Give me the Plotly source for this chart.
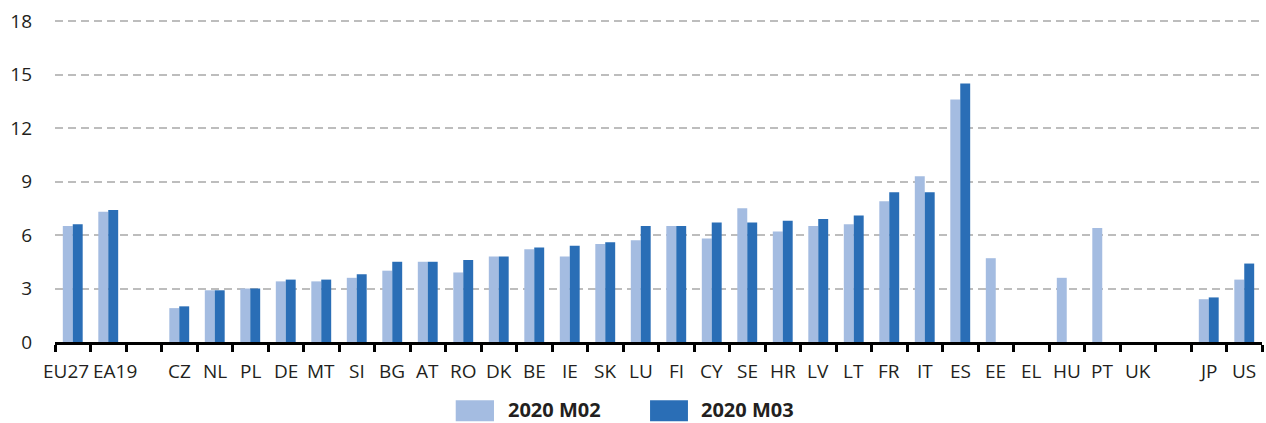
import plotly.graph_objects as go

categories = ["EU27", "EA19", " ", "CZ", "NL", "PL", "DE", "MT", "SI", "BG", "AT", "RO", "DK",
              "BE", "IE", "SK", "LU", "FI", "CY", "SE", "HR", "LV", "LT", "FR", "IT", "ES",
              "EE", "EL", "HU", "PT", "UK", "  ", "JP", "US"]
m02 = [6.5, 7.3, None, 1.9, 2.9, 3.0, 3.4, 3.4, 3.6, 4.0, 4.5, 3.9, 4.8,
       5.2, 4.8, 5.5, 5.7, 6.5, 5.8, 7.5, 6.2, 6.5, 6.6, 7.9, 9.3, 13.6,
       4.7, None, 3.6, 6.4, None, None, 2.4, 3.5]
m03 = [6.6, 7.4, None, 2.0, 2.9, 3.0, 3.5, 3.5, 3.8, 4.5, 4.5, 4.6, 4.8,
       5.3, 5.4, 5.6, 6.5, 6.5, 6.7, 6.7, 6.8, 6.9, 7.1, 8.4, 8.4, 14.5,
       None, None, None, None, None, None, 2.5, 4.4]
series_names = ["2020 M02", "2020 M03"]
y_ticks = [0, 3, 6, 9, 12, 15, 18]

LIGHT = "#A4BCE1"
DARK = "#2A6EB6"
TXT = "#231F20"
FONT = "Open Sans"

fig = go.Figure()
fig.add_trace(go.Bar(x=categories, y=m02, name=series_names[0], marker_color=LIGHT,
                     marker_line_width=0, showlegend=False))
fig.add_trace(go.Bar(x=categories, y=m03, name=series_names[1], marker_color=DARK,
                     marker_line_width=0, showlegend=False))

fig.update_layout(
    width=1266, height=423,
    margin=dict(l=55, r=4, t=20, b=81),
    paper_bgcolor="white", plot_bgcolor="white",
    barmode="group", bargap=0.44, bargroupgap=0,
    font=dict(family=FONT, size=18, color=TXT),
)
fig.update_xaxes(
    type="category", categoryorder="array", categoryarray=categories,
    range=[-0.5, len(categories) - 0.5],
    tickson="boundaries", ticks="outside", ticklen=7, tickwidth=2.5, tickcolor="black",
    showline=True, linecolor="black", linewidth=3, showgrid=False,
    showticklabels=False, fixedrange=True,
)
fig.update_yaxes(
    range=[0, 18.06], tickvals=y_ticks, ticktext=[str(v) for v in y_ticks],
    showgrid=True, gridcolor="#BDBDBD", gridwidth=1.6, griddash="8px,5px",
    zeroline=False, showline=False, ticks="",
    tickfont=dict(family=FONT, size=19, color=TXT), ticklabelstandoff=22,
)

# category labels (first two nudged apart, as in the original)
nudge = {"EU27": -7, "EA19": 7}
for c in categories:
    if not c.strip():
        continue
    fig.add_annotation(x=c, xref="x", y=0, yref="paper", yanchor="top", yshift=-14,
                       xshift=nudge.get(c, 0), text=c, showarrow=False,
                       font=dict(family=FONT, size=19, color=TXT))

# manual legend
leg = [(0.332, 0.3637, 0.3737, LIGHT, series_names[0]),
       (0.493, 0.5244, 0.5336, DARK, series_names[1])]
for x0, x1, xt, col, name in leg:
    fig.add_shape(type="rect", xref="paper", yref="paper", x0=x0, x1=x1, y0=-0.246, y1=-0.181,
                  fillcolor=col, line_width=0)
    fig.add_annotation(xref="paper", yref="paper", x=xt, y=-0.211, xanchor="left", yanchor="middle",
                       text="<b>%s</b>" % name, showarrow=False,
                       font=dict(family=FONT, size=20, color=TXT))

fig.write_html("out.html")
